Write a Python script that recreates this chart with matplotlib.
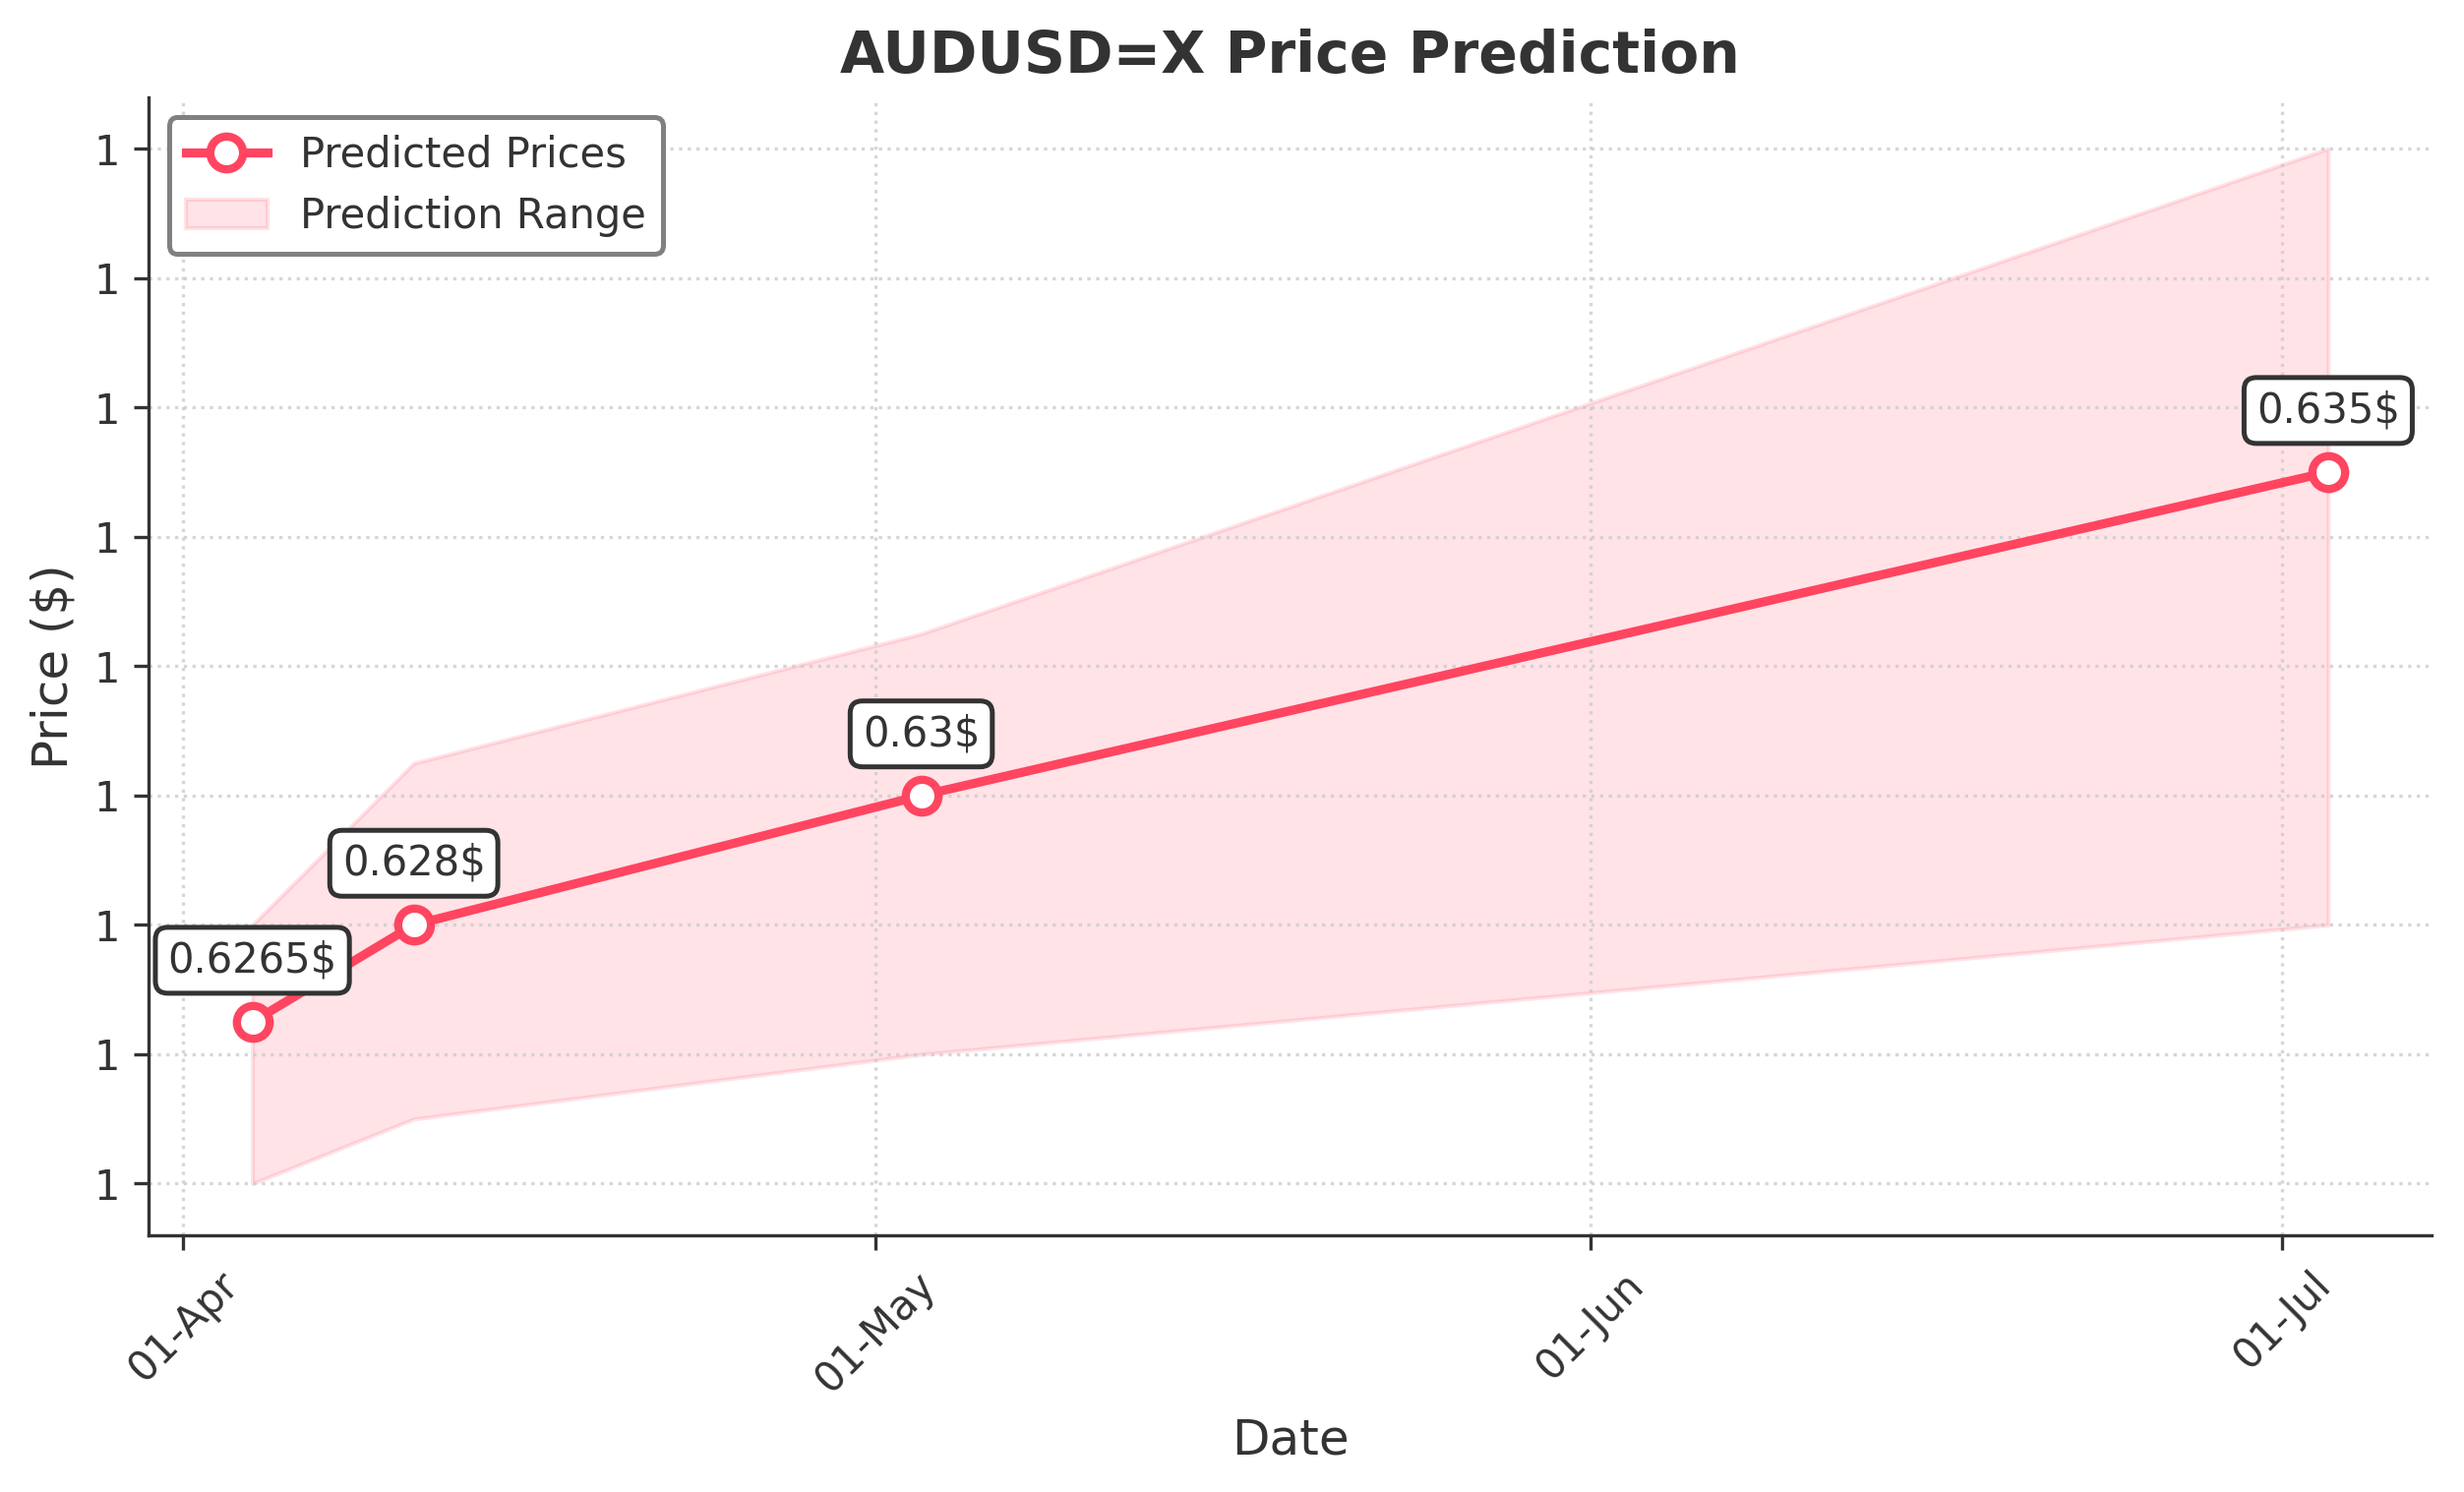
import pandas as pd
import matplotlib
matplotlib.use("Agg")
import matplotlib.pyplot as plt
import matplotlib.dates as mdates
from matplotlib.ticker import FormatStrFormatter, MultipleLocator

# data
dates = pd.to_datetime(["2024-04-04", "2024-04-11", "2024-05-03", "2024-07-03"])
predicted = [0.6265, 0.628, 0.630, 0.635]
lower = [0.624, 0.625, 0.626, 0.628]
upper = [0.628, 0.6305, 0.6325, 0.640]
labels = ["0.6265$", "0.628$", "0.63$", "0.635$"]

line_color = "#ff4560"
text_color = "#333333"

plt.rcParams["text.color"] = text_color
plt.rcParams["axes.labelcolor"] = text_color
plt.rcParams["xtick.color"] = text_color
plt.rcParams["ytick.color"] = text_color

fig = plt.figure(figsize=(8.35, 5.0567), dpi=300)
ax = fig.add_axes([0.0603, 0.172, 0.9267, 0.763])

ax.fill_between(dates, lower, upper, color=line_color, alpha=0.15,
                linewidth=1, label="Prediction Range")
ax.plot(dates, predicted, "-o", color=line_color, linewidth=2.2,
        markersize=8, markerfacecolor="white", markeredgewidth=2,
        markeredgecolor=line_color, label="Predicted Prices")

for d, v, s in zip(dates, predicted, labels):
    ax.annotate(s, (d, v), xytext=(0, 10), textcoords="offset points",
                ha="center", va="bottom", fontsize=10, color=text_color,
                bbox=dict(boxstyle="round,pad=0.3", fc="white",
                          ec=text_color, lw=1.2))

ax.set_title("AUDUSD=X Price Prediction", fontsize=14, fontweight="bold",
             color=text_color)
ax.set_xlabel("Date", fontsize=12)
ax.set_ylabel("Price ($)", fontsize=12)

ax.xaxis.set_major_locator(mdates.MonthLocator())
ax.xaxis.set_major_formatter(mdates.DateFormatter("%d-%b"))
ax.yaxis.set_major_locator(MultipleLocator(0.002))
ax.yaxis.set_major_formatter(FormatStrFormatter("%.0f"))
plt.setp(ax.get_xticklabels(), rotation=45)
ax.tick_params(labelsize=10)

ax.grid(True, linestyle=":", color="#cccccc", linewidth=0.8, alpha=0.8)
ax.spines["top"].set_visible(False)
ax.spines["right"].set_visible(False)
ax.spines["left"].set_color(text_color)
ax.spines["bottom"].set_color(text_color)

handles, lbls = ax.get_legend_handles_labels()
leg = ax.legend(handles[::-1], lbls[::-1], loc="upper left", fontsize=10,
                edgecolor="gray", framealpha=1, fancybox=True)
leg.get_frame().set_linewidth(1.2)

fig.savefig("out.png", dpi=300)
